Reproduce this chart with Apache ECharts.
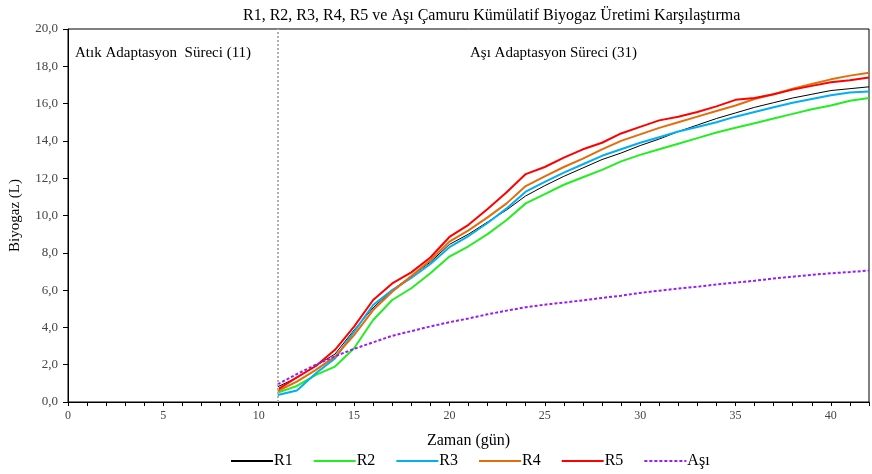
<!DOCTYPE html>
<html>
<head>
<meta charset="utf-8">
<script src="https://cdn.jsdelivr.net/npm/echarts@6/dist/echarts.min.js"></script>
<style>
  html, body { margin: 0; padding: 0; background: #fff; }
  #main { width: 872px; height: 474px; }
</style>
</head>
<body>
<div id="main"></div>
<script>
// gün 11..42
var days = [11, 12, 13, 14, 15, 16, 17, 18, 19, 20, 21, 22, 23, 24, 25, 26, 27, 28, 29, 30,
            31, 32, 33, 34, 35, 36, 37, 38, 39, 40, 41, 42];

var r1 = [0.82, 1.3, 1.95, 2.57, 3.86, 5.05, 6.0, 6.75, 7.5, 8.45, 9.0, 9.65, 10.3, 11.05, 11.6, 12.1,
          12.55, 13.0, 13.35, 13.75, 14.1, 14.5, 14.85, 15.2, 15.5, 15.8, 16.05, 16.3, 16.5, 16.7, 16.8, 16.9];
var r2 = [0.5, 0.86, 1.45, 1.9, 2.88, 4.4, 5.47, 6.1, 6.9, 7.8, 8.35, 9.0, 9.76, 10.65, 11.15, 11.65,
          12.05, 12.45, 12.9, 13.25, 13.55, 13.85, 14.15, 14.45, 14.7, 14.95, 15.2, 15.45, 15.7, 15.9, 16.15, 16.3];
var r3 = [0.38, 0.62, 1.54, 2.34, 3.77, 5.2, 6.0, 6.65, 7.4, 8.3, 8.9, 9.6, 10.38, 11.28, 11.8, 12.3,
          12.75, 13.2, 13.55, 13.9, 14.2, 14.5, 14.75, 15.0, 15.3, 15.55, 15.8, 16.05, 16.25, 16.45, 16.6, 16.65];
var r4 = [0.59, 1.09, 1.72, 2.43, 3.59, 4.93, 5.91, 6.75, 7.6, 8.6, 9.2, 9.9, 10.65, 11.58, 12.1, 12.6,
          13.05, 13.55, 14.0, 14.35, 14.7, 15.0, 15.3, 15.6, 15.9, 16.25, 16.5, 16.8, 17.05, 17.3, 17.5, 17.65];
var r5 = [0.68, 1.32, 1.93, 2.8, 4.04, 5.47, 6.36, 6.95, 7.75, 8.85, 9.5, 10.35, 11.25, 12.22, 12.6, 13.1,
          13.55, 13.9, 14.4, 14.75, 15.1, 15.3, 15.55, 15.85, 16.2, 16.3, 16.5, 16.75, 16.95, 17.15, 17.25, 17.4];
var asi = [0.95, 1.5, 2.0, 2.45, 2.85, 3.2, 3.55, 3.8, 4.05, 4.28, 4.48, 4.7, 4.9, 5.08, 5.22, 5.33,
           5.45, 5.58, 5.7, 5.85, 5.97, 6.08, 6.18, 6.3, 6.4, 6.5, 6.62, 6.72, 6.82, 6.9, 6.97, 7.05];

var names = ['R1', 'R2', 'R3', 'R4', 'R5', 'Aşı'];
var colors = ['#000000', '#22ee22', '#00b0f0', '#e46c0a', '#ff0000', '#9a1cf2'];

var FONT = 'Liberation Serif';

function pairs(vals) {
    return days.map(function (d, i) { return [d, vals[i]]; });
}

function lineSeries(name, vals, color, width, type) {
    return {
        name: name,
        type: 'line',
        data: pairs(vals),
        symbol: 'none',
        smooth: false,
        lineStyle: { color: color, width: width, type: type },
        itemStyle: { color: color }
    };
}

var series = [
    lineSeries(names[0], r1, colors[0], 1, 'solid'),
    lineSeries(names[1], r2, colors[1], 2, 'solid'),
    lineSeries(names[2], r3, colors[2], 2, 'solid'),
    lineSeries(names[3], r4, colors[3], 2, 'solid'),
    lineSeries(names[4], r5, colors[4], 2, 'solid'),
    lineSeries(names[5], asi, colors[5], 2, [3, 2])
];
// atık / aşı adaptasyon ayrım çizgisi
series[0].markLine = {
    silent: true,
    symbol: 'none',
    label: { show: false },
    lineStyle: { color: '#b0b0b0', type: [2, 2], width: 2 },
    data: [{ xAxis: 11 }]
};

var myChart = echarts.init(document.getElementById('main'));
myChart.setOption({
    animation: false,
    backgroundColor: '#fff',
    textStyle: { fontFamily: FONT },
    title: {
        text: 'R1, R2, R3, R4, R5 ve Aşı Çamuru Kümülatif Biyogaz Üretimi Karşılaştırma',
        left: 238,
        top: 3,
        textStyle: { fontFamily: FONT, fontSize: 16, fontWeight: 'normal', color: '#000' }
    },
    grid: { left: 66, right: -4, top: 29, bottom: 72, show: true, borderColor: '#000', borderWidth: 1 },
    legend: {
        bottom: 0,
        left: 225,
        itemWidth: 42,
        itemHeight: 10,
        itemGap: 20,
        itemStyle: { opacity: 0 },
        textStyle: { fontFamily: FONT, fontSize: 16, color: '#000', padding: [0, 0, 0, -4] },
        data: names
    },
    xAxis: {
        type: 'value',
        min: 0,
        max: 42,
        interval: 1,
        name: 'Zaman (gün)',
        nameLocation: 'middle',
        nameGap: 31,
        nameTextStyle: { fontFamily: FONT, fontSize: 16, color: '#000' },
        axisLine: { onZero: false, lineStyle: { color: '#000' } },
        axisTick: { length: 4, lineStyle: { color: '#000' } },
        axisLabel: {
            fontFamily: FONT, fontSize: 12, color: '#444',
            formatter: function (v) { return v % 5 === 0 ? String(v) : ''; }
        },
        splitLine: { show: false }
    },
    yAxis: {
        type: 'value',
        min: 0,
        max: 20,
        interval: 2,
        name: 'Biyogaz (L)',
        nameLocation: 'middle',
        nameGap: 45,
        nameTextStyle: { fontFamily: FONT, fontSize: 15, color: '#000' },
        axisLine: { show: true, lineStyle: { color: '#000' } },
        axisTick: { show: true, length: 5, lineStyle: { color: '#000' } },
        axisLabel: {
            fontFamily: FONT, fontSize: 13, color: '#444', margin: 10,
            formatter: function (v) { return v.toFixed(1).replace('.', ','); }
        },
        splitLine: { show: false }
    },
    graphic: [
        { type: 'text', left: 75, top: 46,
          style: { text: 'Atık Adaptasyon  Süreci (11)', font: '15px "Liberation Serif"', fill: '#000' } },
        { type: 'text', left: 470, top: 46,
          style: { text: 'Aşı Adaptasyon Süreci (31)', font: '15px "Liberation Serif"', fill: '#000' } }
    ],
    series: series
});
</script>
</body>
</html>
